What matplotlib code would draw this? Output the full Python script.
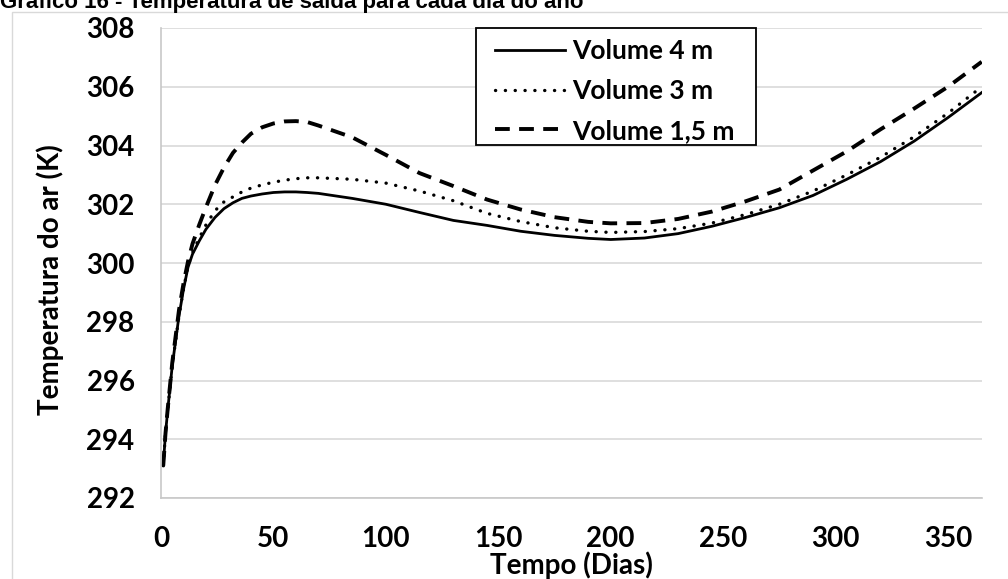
import matplotlib
matplotlib.use("Agg")
import matplotlib.pyplot as plt
from matplotlib.patches import Rectangle

# Dados (dia do ano x temperatura de saida em K)
dias = [1, 2, 3, 5, 8, 10, 12, 14, 17, 20, 24, 28, 32, 36, 40, 45, 50, 55, 60, 65, 70,
        85, 100, 115, 130, 145, 160, 175, 190, 200, 215, 230, 245, 260, 275, 290, 305,
        320, 335, 350, 365]
vol_4m = [293.1, 294.2, 295.0, 296.5, 298.2, 299.1, 299.85, 300.3, 300.75, 301.15, 301.55,
          301.85, 302.05, 302.2, 302.28, 302.35, 302.4, 302.42, 302.42, 302.4, 302.37,
          302.2, 302.0, 301.72, 301.45, 301.28, 301.08, 300.94, 300.84, 300.8, 300.85,
          301.0, 301.25, 301.55, 301.88, 302.3, 302.85, 303.45, 304.15, 304.95, 305.8]
vol_3m = [293.1, 294.2, 295.0, 296.5, 298.2, 299.1, 299.9, 300.35, 300.85, 301.3, 301.78,
          302.08, 302.25, 302.42, 302.55, 302.66, 302.75, 302.82, 302.87, 302.9, 302.9,
          302.85, 302.72, 302.45, 302.12, 301.69, 301.41, 301.2, 301.08, 301.04, 301.07,
          301.17, 301.36, 301.65, 302.0, 302.45, 303.0, 303.6, 304.3, 305.1, 306.0]
vol_15m = [293.1, 294.2, 295.05, 296.6, 298.4, 299.3, 300.05, 300.65, 301.3, 301.9, 302.65,
           303.25, 303.75, 304.1, 304.4, 304.62, 304.75, 304.82, 304.83, 304.8, 304.68,
           304.28, 303.68, 303.06, 302.62, 302.16, 301.82, 301.56, 301.4, 301.35, 301.36,
           301.5, 301.75, 302.1, 302.5, 303.15, 303.8, 304.55, 305.26, 306.0, 306.85]

x_ticks = [0, 50, 100, 150, 200, 250, 300, 350]
y_ticks = [292, 294, 296, 298, 300, 302, 304, 306, 308]

W, H = 1008, 579
fonte = "Lato"

fig = plt.figure(figsize=(W / 100, H / 100), dpi=100)

# moldura do grafico (Excel)
fig.patches.append(Rectangle((12 / W, -0.1), 1.2, 1 - 12 / H + 0.1, transform=fig.transFigure,
                             fill=False, edgecolor="#d9d9d9", linewidth=1.0))

# titulo cortado no topo, como na imagem original
fig.text(0 / W, 1 - 8.3 / H, "Gráfico 16 - Temperatura de saída para cada dia do ano",
         ha="left", va="baseline", fontsize=16, fontweight="bold",
         family="Liberation Sans", color="black")

ax = fig.add_axes([161 / W, (H - 498) / H, (981.7 - 161) / W, (498 - 28) / H])

ax.plot(dias, vol_4m, color="black", linewidth=2.0, label="Volume 4 m")
ax.plot(dias, vol_3m, color="black", linewidth=2.4, linestyle=(0, (0.05, 2.9)),
        dash_capstyle="round", label="Volume 3 m")
ax.plot(dias, vol_15m, color="black", linewidth=2.8, linestyle=(0, (3.8, 2.4)),
        label="Volume 1,5 m")

ax.set_xlim(0, 365)
ax.set_ylim(292, 308)
ax.set_xticks(x_ticks)
ax.set_yticks(y_ticks)
ax.grid(axis="y", color="#d9d9d9", linewidth=1.2)
ax.set_axisbelow(True)
for lado in ["top", "right"]:
    ax.spines[lado].set_visible(False)
for lado in ["left", "bottom"]:
    ax.spines[lado].set_color("#c8c8c8")
    ax.spines[lado].set_linewidth(1.2)
ax.tick_params(length=0, labelsize=20)
ax.tick_params(axis="y", pad=19)
ax.tick_params(axis="x", pad=20)
for t in ax.get_xticklabels() + ax.get_yticklabels():
    t.set_fontfamily(fonte)
    t.set_fontweight("bold")

fig.text(571 / W, 1 - 565 / H, "Tempo (Dias)", ha="center", va="center",
         fontsize=20, fontweight="bold", family=fonte)
fig.text(50 / W, 1 - 280 / H, "Temperatura do ar (K)", ha="center", va="center",
         rotation=90, fontsize=20, fontweight="bold", family=fonte)

# caixa da legenda desenhada a parte (padding diferente em x e y)
caixa = Rectangle((476 / W, 1 - 145 / H), 280 / W, 117 / H, transform=fig.transFigure,
                  facecolor="white", edgecolor="black", linewidth=1.3, zorder=4,
                  clip_on=False)
ax.add_patch(caixa)

leg = ax.legend(loc="upper left", bbox_to_anchor=(495 / W, 1 - 39 / H),
                bbox_transform=fig.transFigure, borderaxespad=0, borderpad=0,
                prop={"family": fonte, "weight": "bold", "size": 19},
                frameon=False, handlelength=2.65, handletextpad=0.27,
                labelspacing=0.6)
leg.set_zorder(5)

fig.savefig("out.png", dpi=100)
